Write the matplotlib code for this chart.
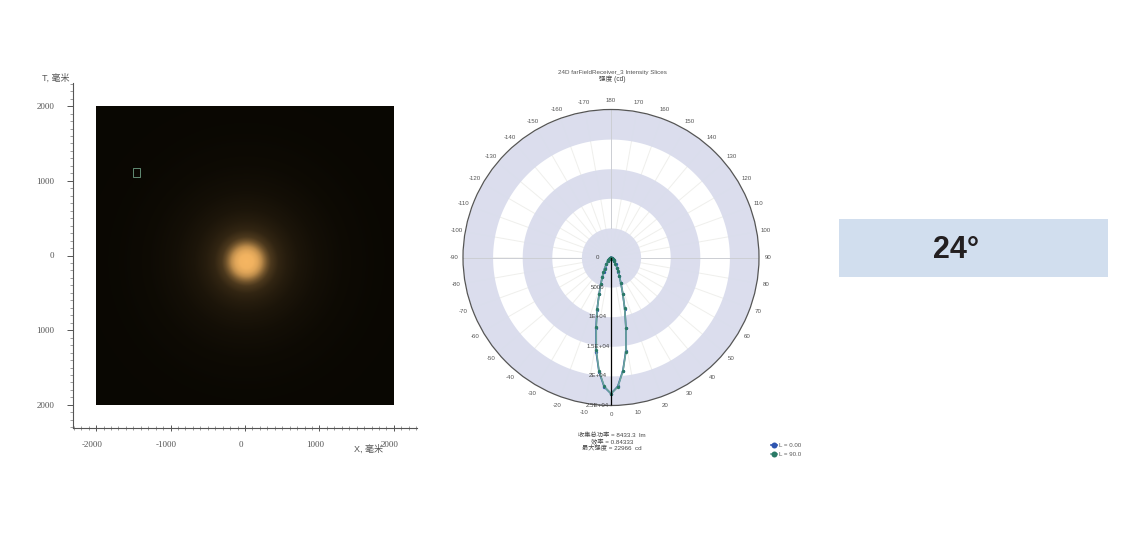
import numpy as np
import matplotlib
matplotlib.use("Agg")
import matplotlib.pyplot as plt
from matplotlib.patches import Rectangle
from matplotlib.ticker import MultipleLocator
from matplotlib.transforms import ScaledTranslation

W, H = 1132, 535

# far field picture: brightness against distance from the spot centre (mm)
glow_radius = [0, 90, 150, 200, 240, 280, 330, 430, 550, 700, 950, 1300, 1800, 3000]
glow_level = [1.0, 0.98, 0.9, 0.76, 0.58, 0.42, 0.28, 0.17, 0.12, 0.08, 0.045, 0.02, 0.006, 0.0]
glow_center = [20, -80]
glow_core = [246, 182, 98]
glow_dark = [9, 7, 2]
marker_box = [-1510, 1050, 100, 118]

axis_ticks = [-2000, -1000, 0, 1000, 2000]
x_tick_labels = ["-2000", "-1000", "0", "1000", "2000"]
y_tick_labels = ["2000", "1000", "0", "1000", "2000"]

# polar plot
ring_edges = [0, 5000, 10000, 15000, 20000, 25000]
ring_labels = ["0", "5000", "1E+04", "1.5E+04", "2E+04", "2.5E+04"]
angle_ticks = list(range(-170, 190, 10))
slice_angles = [-90, -80, -70, -60, -55, -50, -46, -42, -36, -30, -27, -24, -21, -18, -15, -12, -9, -6, -3,
                0, 3, 6, 9, 12, 15, 18, 21, 24, 27, 30, 36, 42, 46, 50, 55, 60, 70, 80, 90]
slice_l0 = [0, 30, 90, 220, 350, 500, 680, 850, 1300, 2100, 2750, 3600, 4800, 6500, 9100, 12200, 16100, 19400, 21900,
            23000, 21800, 19200, 16000, 12100, 9000, 6400, 4700, 3500, 2700, 2100, 1300, 850, 680, 500, 350, 220, 90, 30, 0]
slice_l90 = [0, 35, 100, 240, 370, 520, 700, 880, 1350, 2150, 2800, 3650, 4850, 6450, 9000, 12000, 15900, 19300, 21800,
             23000, 21900, 19300, 16100, 12200, 8900, 6500, 4600, 3450, 2650, 2050, 1280, 830, 660, 480, 340, 210, 85, 28, 0]

plt.rcParams['font.family'] = ['Liberation Sans', 'Noto Sans CJK SC', 'DejaVu Sans']
fig = plt.figure(figsize=(W / 100, H / 100), dpi=100, facecolor='white')


def px_box(left, top, right, bottom):
    return [left / W, 1 - bottom / H, (right - left) / W, (bottom - top) / H]


# left: receiver picture
ax1 = fig.add_axes(px_box(73, 83, 417, 428))
grid = np.linspace(-2000, 2000, 500)
xx, yy = np.meshgrid(grid, grid)
dist = np.hypot(xx - glow_center[0], yy - glow_center[1])
level = np.interp(dist, glow_radius, glow_level)[..., None]
rgb = (np.array(glow_dark) + level * (np.array(glow_core) - np.array(glow_dark))) / 255
ax1.imshow(rgb, extent=[-2000, 2000, -2000, 2000], origin='lower', aspect='auto')
ax1.set_xlim(-2310, 2310)
ax1.set_ylim(-2310, 2310)
ax1.add_patch(Rectangle(marker_box[:2], marker_box[2], marker_box[3], fill=False,
                        edgecolor='#6f9f85', linewidth=0.6))
ax1.spines['top'].set_visible(False)
ax1.spines['right'].set_visible(False)
ax1.spines['left'].set_color('#555555')
ax1.spines['bottom'].set_color('#555555')
ax1.set_xticks(axis_ticks, x_tick_labels, family='Liberation Serif', fontsize=6.5, color='#555555')
ax1.set_yticks(axis_ticks, y_tick_labels, family='Liberation Serif', fontsize=6.5, color='#555555')
ax1.xaxis.set_minor_locator(MultipleLocator(100))
ax1.yaxis.set_minor_locator(MultipleLocator(100))
ax1.tick_params(axis='x', which='major', direction='inout', length=5, width=0.7, color='#555555', pad=7)
ax1.tick_params(axis='x', which='minor', direction='inout', length=3, width=0.5, color='#777777')
ax1.tick_params(axis='y', which='major', direction='out', length=4.5, width=0.7, color='#555555', pad=9)
ax1.tick_params(axis='y', which='minor', direction='out', length=2, width=0.5, color='#777777')
shift = ScaledTranslation(-3 / 72, 0, fig.dpi_scale_trans)
for lab in ax1.get_xticklabels():
    lab.set_transform(lab.get_transform() + shift)
fig.text(56 / W, 1 - 78 / H, "T, 毫米", fontsize=6.5, color='#555555', ha='center', va='center')
fig.text(368 / W, 1 - 449 / H, "X, 毫米", fontsize=6.5, color='#555555', ha='center', va='center')

# middle: polar intensity slices
ax2 = fig.add_axes(px_box(463, 109.5, 759, 405.5), projection='polar')
ax2.set_theta_zero_location('S')
ax2.set_theta_direction(1)
ax2.set_ylim(0, ring_edges[-1])
for i in range(0, len(ring_edges) - 1, 2):
    ax2.fill_between(np.linspace(0, 2 * np.pi, 361), ring_edges[i], ring_edges[i + 1],
                     color='#d9dcec', alpha=0.95, linewidth=0, zorder=1)
ax2.set_xticks(np.radians(np.array(angle_ticks) % 360), [str(a) for a in angle_ticks],
               fontsize=4.4, color='#555555')
ax2.tick_params(axis='x', direction='out', length=2, width=0.6, color='#444444', pad=-2.5)
ax2.xaxis.grid(True, color='#efefec', linewidth=0.7)
ax2.yaxis.grid(False)
ax2.set_yticks([])
ax2.spines['polar'].set_color('#555555')
ax2.spines['polar'].set_linewidth(0.9)
ax2.set_axisbelow(True)
for a in [90, -90, 180]:
    ax2.plot([np.radians(a), np.radians(a)], [5000, ring_edges[-1]], color='#ccced4', linewidth=0.7, zorder=2)

th = np.radians(slice_angles)
line_l0, = ax2.plot(th, slice_l0, color='#2f55b0', linewidth=1.2, marker='o', markersize=2.4,
                    markeredgewidth=0, label="L = 0.00", zorder=3)
line_l90, = ax2.plot(th, slice_l90, color='#6aa39a', linewidth=1.2, marker='o', markersize=2.4,
                     markerfacecolor='#2a7a66', markeredgewidth=0, label="L = 90.0", zorder=4)
ax2.plot([0, 0], [0, ring_edges[-1]], color='black', linewidth=0.9, zorder=5)
for r, lab in zip(ring_edges, ring_labels):
    ax2.annotate(lab, (0, r), xytext=(-9.5, 0), textcoords='offset points', fontsize=4.4,
                 color='#444444', ha='center', va='center', annotation_clip=False, zorder=6)

fig.text(612 / W, 1 - 72 / H, "24D farFieldReceiver_3 Intensity Slices", fontsize=4.5,
         color='#555555', ha='center', va='center')
fig.text(612 / W, 1 - 79 / H, "强度 (cd)", fontsize=4.8, color='#444444', ha='center', va='center')
fig.text(612 / W, 1 - 435.5 / H, "收集总功率 = 8433.3  lm", fontsize=4.5, color='#444444', ha='center', va='center')
fig.text(612 / W, 1 - 441.5 / H, "效率 = 0.84333", fontsize=4.5, color='#444444', ha='center', va='center')
fig.text(612 / W, 1 - 447.5 / H, "最大强度 = 22966  cd", fontsize=4.5, color='#444444', ha='center', va='center')

leg = fig.legend(handles=[line_l0, line_l90], loc='center left',
                 bbox_to_anchor=(771 / W, 1 - 450 / H), frameon=False, fontsize=4.4,
                 handlelength=1.0, handletextpad=0.3, labelspacing=0.5, borderpad=0, borderaxespad=0,
                 labelcolor='#555555', markerscale=1.8)

# right: beam angle box
fig.add_artist(Rectangle((839 / W, 1 - 277 / H), 269 / W, 58 / H, transform=fig.transFigure,
                         facecolor='#d1deee', edgecolor='none'))
fig.text(956 / W, 1 - 250 / H, "24°", fontsize=22, fontweight='bold', color='#231f20',
         ha='center', va='center')

fig.savefig("out.png", dpi=100)
